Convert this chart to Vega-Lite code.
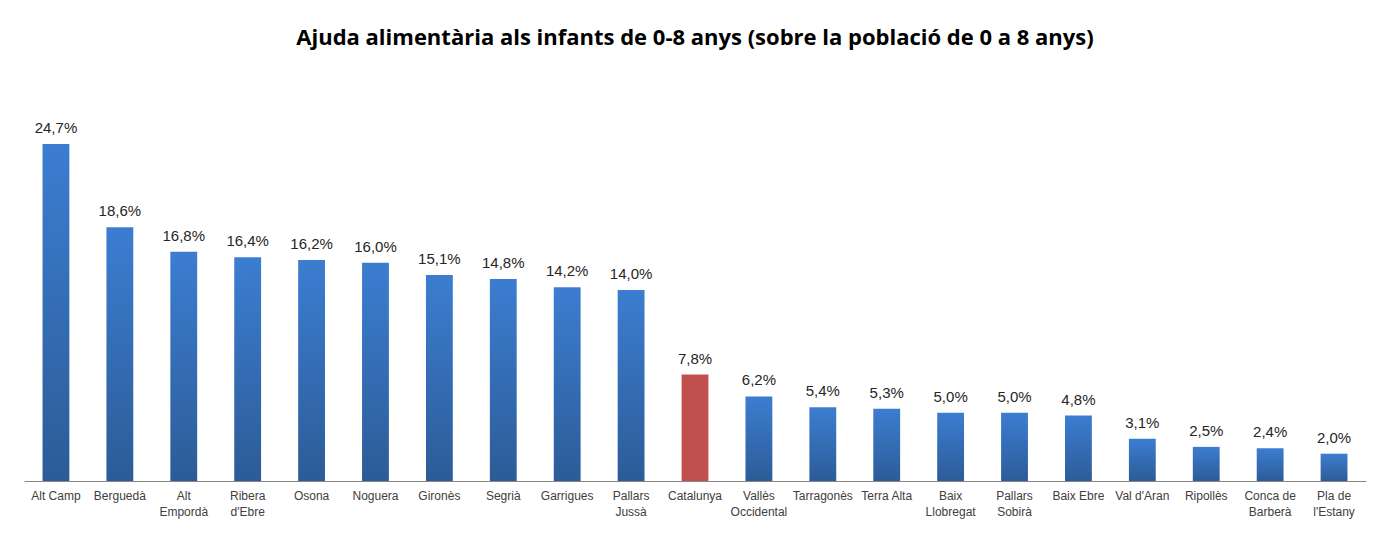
{
  "$schema": "https://vega.github.io/schema/vega-lite/v6.json",
  "autosize": "none",
  "width": 1342,
  "height": 380,
  "padding": {"left": 24, "top": 101, "right": 22, "bottom": 53},
  "background": "white",
  "config": {
    "view": {"stroke": null},
    "locale": {
      "number": {"decimal": ",", "thousands": ".", "grouping": [3], "currency": ["", "%"]}
    }
  },
  "title": {
    "text": "Ajuda alimentària als infants de 0-8 anys (sobre la població de 0 a 8 anys)",
    "font": "Open Sans",
    "fontSize": 22,
    "fontWeight": "bold",
    "color": "#000000",
    "anchor": "middle",
    "offset": 51
  },
  "data": {
    "values": [
      {"region": "Alt Camp", "value": 24.7, "group": "comarca"},
      {"region": "Berguedà", "value": 18.6, "group": "comarca"},
      {"region": "Alt Empordà", "value": 16.8, "group": "comarca"},
      {"region": "Ribera d'Ebre", "value": 16.4, "group": "comarca"},
      {"region": "Osona", "value": 16.2, "group": "comarca"},
      {"region": "Noguera", "value": 16.0, "group": "comarca"},
      {"region": "Gironès", "value": 15.1, "group": "comarca"},
      {"region": "Segrià", "value": 14.8, "group": "comarca"},
      {"region": "Garrigues", "value": 14.2, "group": "comarca"},
      {"region": "Pallars Jussà", "value": 14.0, "group": "comarca"},
      {"region": "Catalunya", "value": 7.8, "group": "total"},
      {"region": "Vallès Occidental", "value": 6.2, "group": "comarca"},
      {"region": "Tarragonès", "value": 5.4, "group": "comarca"},
      {"region": "Terra Alta", "value": 5.3, "group": "comarca"},
      {"region": "Baix Llobregat", "value": 5.0, "group": "comarca"},
      {"region": "Pallars Sobirà", "value": 5.0, "group": "comarca"},
      {"region": "Baix Ebre", "value": 4.8, "group": "comarca"},
      {"region": "Val d'Aran", "value": 3.1, "group": "comarca"},
      {"region": "Ripollès", "value": 2.5, "group": "comarca"},
      {"region": "Conca de Barberà", "value": 2.4, "group": "comarca"},
      {"region": "Pla de l'Estany", "value": 2.0, "group": "comarca"}
    ]
  },
  "encoding": {
    "x": {
      "field": "region",
      "type": "nominal",
      "sort": null,
      "scale": {"paddingInner": 0.58, "paddingOuter": 0.29},
      "axis": {
        "title": null,
        "labelAngle": 0,
        "labelFont": "Liberation Sans",
        "labelFontSize": 12,
        "labelColor": "#404040",
        "labelPadding": 9,
        "labelLineHeight": 16,
        "labelExpr": "length(datum.label) > 10 ? [slice(datum.label, 0, lastindexof(datum.label, ' ')), slice(datum.label, lastindexof(datum.label, ' ') + 1)] : datum.label",
        "ticks": false,
        "domainColor": "#868686",
        "domainWidth": 1,
        "grid": false
      }
    },
    "y": {
      "field": "value",
      "type": "quantitative",
      "scale": {"domain": [0, 27.85], "nice": false},
      "axis": null
    }
  },
  "layer": [
    {
      "mark": {"type": "bar"},
      "encoding": {
        "fill": {
          "condition": {"test": "datum.group === 'total'", "value": "#c0504d"},
          "value": {
            "gradient": "linear",
            "x1": 0, "y1": 0, "x2": 0, "y2": 1,
            "stops": [
              {"offset": 0, "color": "#3c7dd1"},
              {"offset": 1, "color": "#2c5c97"}
            ]
          }
        }
      }
    },
    {
      "mark": {
        "type": "text",
        "baseline": "alphabetic",
        "dy": -11,
        "font": "Liberation Sans",
        "fontSize": 15,
        "color": "#262626"
      },
      "encoding": {
        "text": {"field": "value", "type": "quantitative", "format": "$.1f"}
      }
    }
  ]
}
